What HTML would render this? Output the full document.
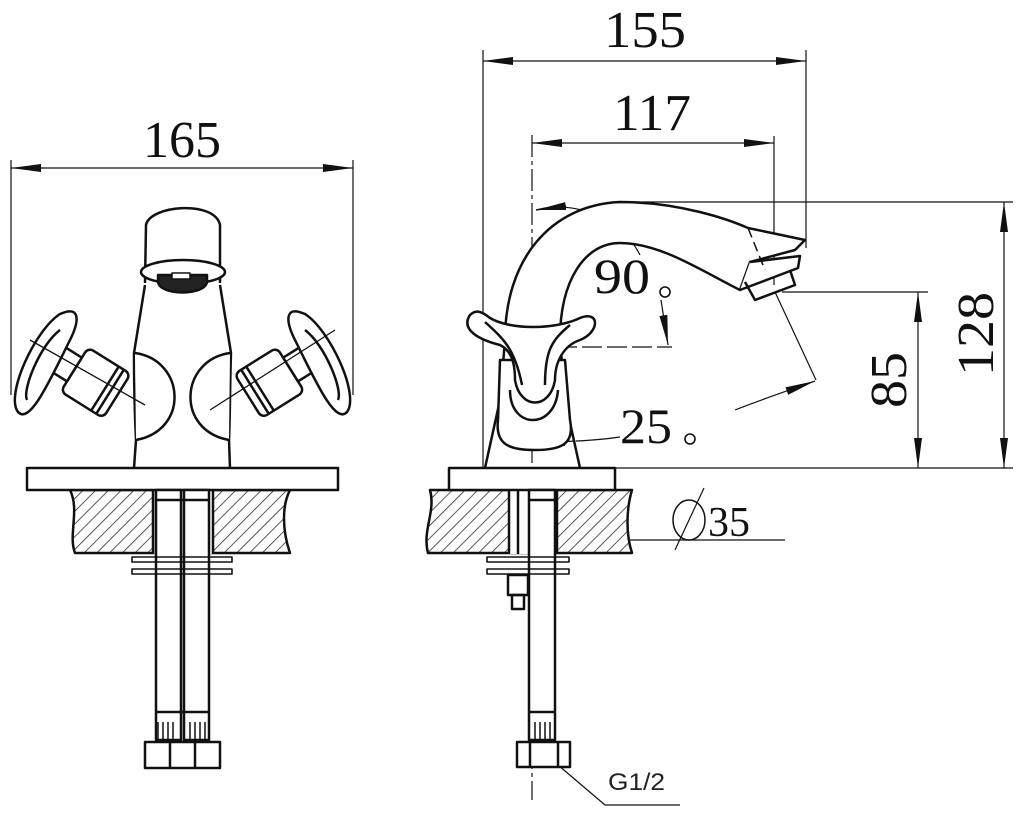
<!DOCTYPE html>
<html><head><meta charset="utf-8"><style>
html,body{margin:0;padding:0;background:#fff;}
svg{display:block;}
.t{font-family:"Liberation Serif",serif;fill:#111;}
</style></head><body>
<svg width="1022" height="820" viewBox="0 0 1022 820" xmlns="http://www.w3.org/2000/svg">
<defs>
<pattern id="h" width="9" height="9" patternUnits="userSpaceOnUse" patternTransform="rotate(45)">
<rect width="9" height="9" fill="#fff"/><line x1="0" y1="0" x2="0" y2="9" stroke="#222" stroke-width="1.5"/>
</pattern>
<marker id="a" viewBox="0 0 30 10" refX="30" refY="5" markerWidth="30" markerHeight="10" markerUnits="userSpaceOnUse" orient="auto-start-reverse"><path d="M0,1 L30,5 L0,9 z" fill="#111"/></marker>
</defs>
<g fill="none" stroke="#111" stroke-width="1.2">
<line x1="11" y1="160" x2="11" y2="395"/>
<line x1="353" y1="160" x2="353" y2="395"/>
<line x1="11" y1="168" x2="353" y2="168" marker-start="url(#a)" marker-end="url(#a)"/>
</g>
<text class="t" x="143" y="157" font-size="52" textLength="78" lengthAdjust="spacingAndGlyphs">165</text>

<g fill="none" stroke="#111" stroke-width="2.5" stroke-linejoin="round">
<path d="M70,490 L290,490 C282,505 282,530 290,553 L75,553 C68,535 80,510 70,490 Z" fill="url(#h)"/>
<rect x="153" y="490" width="60" height="64" fill="#fff" stroke="none"/>
<line x1="153" y1="490" x2="153" y2="554"/><line x1="213" y1="490" x2="213" y2="554"/>
<rect x="27" y="468" width="311" height="22" fill="#fff"/>
<rect x="156" y="490" width="25" height="250" fill="#fff"/>
<rect x="184" y="490" width="25" height="250" fill="#fff"/>
<line x1="156" y1="500" x2="209" y2="500"/><line x1="156" y1="712" x2="209" y2="712"/>
<rect x="132" y="557" width="100" height="5" stroke-width="1.6"/>
<rect x="132" y="569" width="100" height="5" stroke-width="1.6"/>
<path d="M145,742 h75 v26 h-75 z M170,742 v26 M195,742 v26" fill="#fff"/>
<path d="M158,722 v18 M163,722 v18 M168,722 v18 M173,722 v18 M190,722 v18 M195,722 v18 M200,722 v18 M205,722 v18" stroke-width="1.5"/>
<path d="M134,468 L136,440 C135,420 134,380 134,353 L145,285 M230,468 L229,440 C230,420 230,380 231,353 L220,285" fill="#fff"/>
<path d="M145,283 L146,225 C150,205 215,200 220,225 L220,283"/>
<ellipse cx="183" cy="272" rx="42" ry="12" fill="#fff"/>
<path d="M158,282 C160,296 205,296 207,282 L207,275 L158,275 Z" fill="#222"/>
<rect x="172" y="273" width="18" height="6" fill="#fff" stroke-width="1.5"/>
<path d="M135,353 C185,360 190,430 136,440" fill="#fff"/>
<path d="M230,353 C180,360 175,430 229,440" fill="#fff"/>
<g transform="rotate(32 95 380)">
<rect x="72" y="356" width="50" height="52" rx="6" fill="#fff"/>
<line x1="108" y1="356" x2="108" y2="408"/><line x1="114" y1="356" x2="114" y2="408"/>
<rect x="50" y="368" width="22" height="28" fill="#fff"/>
</g>
<path d="M18,412 C5,395 35,330 60,314 C80,305 80,320 70,340 C50,380 30,425 18,412 Z" fill="#fff"/>
<path d="M27,400 C22,390 40,345 60,330"/>
<g transform="rotate(-32 270 380)">
<rect x="243" y="356" width="50" height="52" rx="6" fill="#fff"/>
<line x1="251" y1="356" x2="251" y2="408"/><line x1="257" y1="356" x2="257" y2="408"/>
<rect x="293" y="368" width="22" height="28" fill="#fff"/>
</g>
<path d="M347,412 C360,395 330,330 305,314 C285,305 285,320 295,340 C315,380 335,425 347,412 Z" fill="#fff"/>
<path d="M338,400 C343,390 325,345 305,330"/>
</g>
<g stroke="#111" stroke-width="1.3" fill="none">
<line x1="30" y1="340" x2="145" y2="405"/><line x1="335" y1="330" x2="210" y2="410"/>
</g>

<g fill="none" stroke="#111" stroke-width="1.2">
<line x1="483" y1="50" x2="483" y2="468"/>
<line x1="806" y1="50" x2="806" y2="248"/>
<line x1="483" y1="61" x2="806" y2="61" marker-start="url(#a)" marker-end="url(#a)"/>
<line x1="532" y1="135" x2="532" y2="800" stroke-dasharray="22,4,4,4"/>
<line x1="774" y1="136" x2="774" y2="285"/>
<line x1="532" y1="143" x2="774" y2="143" marker-start="url(#a)" marker-end="url(#a)"/>
<line x1="620" y1="202" x2="1013" y2="202"/>
<line x1="600" y1="468" x2="1013" y2="468"/>
<line x1="1004" y1="202" x2="1004" y2="468" marker-start="url(#a)" marker-end="url(#a)"/>
<line x1="782" y1="292" x2="928" y2="292"/>
<line x1="918" y1="292" x2="918" y2="468" marker-start="url(#a)" marker-end="url(#a)"/>
<path d="M536,210 C570,200 620,215 640,255"/>
<line x1="536" y1="210" x2="566" y2="206" marker-end="url(#a)" transform="rotate(180 551 208)"/>
<path d="M661,300 L668,345" marker-end="url(#a)"/>
<line x1="532" y1="347" x2="672" y2="347" stroke-dasharray="20,5"/>
<path d="M775,292 L816,380"/>
<path d="M735,410 C760,400 790,390 815,381" marker-end="url(#a)"/>
<path d="M620,437 C600,440 570,442 535,442" marker-end="url(#a)"/>
<line x1="470" y1="540" x2="785" y2="540"/>
<line x1="478" y1="540" x2="508" y2="540" marker-start="url(#a)" transform="rotate(180 493 540)"/>
<line x1="557" y1="540" x2="587" y2="540" marker-start="url(#a)" transform="rotate(180 572 540)"/>
<line x1="675" y1="550" x2="704" y2="488"/>
<path d="M558,765 L605,805 L680,805"/>
</g>
<text class="t" x="594" y="293" font-size="50" textLength="56" lengthAdjust="spacingAndGlyphs">90</text>
<circle cx="665" cy="292" r="5" fill="none" stroke="#111" stroke-width="1.6"/>
<text class="t" x="620" y="443" font-size="50" textLength="52" lengthAdjust="spacingAndGlyphs">25</text>
<circle cx="690" cy="439" r="5" fill="none" stroke="#111" stroke-width="1.6"/>
<text class="t" x="708" y="536" font-size="42" textLength="42" lengthAdjust="spacingAndGlyphs">35</text>
<ellipse cx="689" cy="520" rx="16" ry="20" fill="none" stroke="#111" stroke-width="1.5"/>
<text class="t" x="604" y="47" font-size="52" textLength="82" lengthAdjust="spacingAndGlyphs">155</text>
<text class="t" x="613" y="130" font-size="52" textLength="78" lengthAdjust="spacingAndGlyphs">117</text>
<text class="t" transform="translate(906,408) rotate(-90)" font-size="52" textLength="56" lengthAdjust="spacingAndGlyphs">85</text>
<text class="t" transform="translate(993,376) rotate(-90)" font-size="52" textLength="84" lengthAdjust="spacingAndGlyphs">128</text>
<text x="608" y="790" font-family="Liberation Sans,sans-serif" font-size="24" fill="#222" textLength="57" lengthAdjust="spacingAndGlyphs">G1/2</text>

<g fill="none" stroke="#111" stroke-width="2.5" stroke-linejoin="round">
<path d="M430,490 L632,490 C626,510 626,535 632,553 L428,553 C422,530 436,512 430,490 Z" fill="url(#h)"/>
<rect x="509" y="490" width="48" height="64" fill="#fff" stroke="none"/>
<line x1="509" y1="490" x2="509" y2="554"/><line x1="557" y1="490" x2="557" y2="554"/>
<line x1="518" y1="490" x2="518" y2="554"/>
<rect x="449" y="468" width="166" height="22" fill="#fff"/>
<rect x="529" y="490" width="26" height="250" fill="#fff"/>
<line x1="529" y1="500" x2="555" y2="500"/><line x1="529" y1="712" x2="555" y2="712"/>
<rect x="487" y="557" width="82" height="5" stroke-width="1.6"/>
<rect x="487" y="569" width="82" height="5" stroke-width="1.6"/>
<rect x="508" y="575" width="20" height="20"/><rect x="512" y="595" width="12" height="14"/>
<path d="M517,742 h53 v25 h-53 z M530,742 v25 M558,742 v25" fill="#fff"/>
<path d="M535,722 v18 M540,722 v18 M545,722 v18 M550,722 v18" stroke-width="1.5"/>
<path d="M505,340 C505,260 550,205 620,202 C680,202 730,220 748,228 L805,240 L795,250 L750,262 L740,290 C700,270 660,243 620,243 C585,243 560,280 560,340" fill="#fff"/>
<path d="M740,290 L798,268 L800,256 L750,262" fill="#fff"/>
<path d="M745,282 L755,300 L795,285 L790,270"/>
<path d="M748,228 C755,245 760,258 765,270" stroke-width="1.5" stroke-dasharray="10,5"/>
<path d="M485,468 L500,400 L505,340 M580,468 L565,400 L560,340" fill="#fff"/>
<path d="M498,420 C495,445 510,450 535,450 C560,450 575,445 570,420 L565,360 L500,360 Z" fill="#fff"/>
<path d="M470,315 C460,330 480,340 500,345 C510,350 515,360 515,380 C520,410 550,410 555,380 C555,360 565,345 580,340 C600,332 600,310 580,318 C555,330 510,330 490,318 C480,310 475,310 470,315 Z" fill="#fff"/>
<path d="M485,322 C505,340 515,350 522,385 M570,325 C552,340 545,350 545,385"/>
<path d="M510,390 C510,430 555,430 558,390"/>
</g>
</svg>
</body></html>
